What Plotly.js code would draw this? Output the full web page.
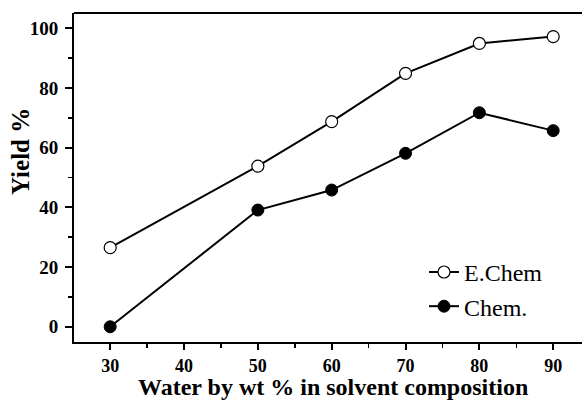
<!DOCTYPE html>
<html>
<head>
<meta charset="utf-8">
<script src="https://cdn.plot.ly/plotly-3.0.1.min.js"></script>
<style>html,body{margin:0;padding:0;background:#fff;}#chart{width:582px;height:400px;}</style>
</head>
<body>
<div id="chart"></div>
<script>
const waterPct = [30, 50, 60, 70, 80, 90];
const eChemYield = [26.5, 53.8, 68.7, 84.9, 94.9, 97.2];
const chemYield = [0, 39.1, 45.8, 58.1, 71.7, 65.7];
const seriesNames = ["E.Chem", "Chem."];
const xTicks = [30, 40, 50, 60, 70, 80, 90];
const yTicks = [0, 20, 40, 60, 80, 100];
const xTitle = "Water by wt % in solvent composition";
const yTitle = "Yield %";

const serif = "'Liberation Serif', 'Times New Roman', serif";

const traces = [
  {
    x: waterPct, y: eChemYield, name: seriesNames[0], mode: "lines+markers",
    line: {color: "#000", width: 2},
    marker: {symbol: "circle", size: 12, color: "#fff", line: {color: "#000", width: 1.2}}
  },
  {
    x: waterPct, y: chemYield, name: seriesNames[1], mode: "lines+markers",
    line: {color: "#000", width: 2},
    marker: {symbol: "circle", size: 12, color: "#000", line: {color: "#000", width: 1}}
  }
];

const layout = {
  width: 582, height: 400,
  margin: {l: 74, r: 0, t: 13, b: 58},
  paper_bgcolor: "#fff", plot_bgcolor: "#fff",
  showlegend: true,
  legend: {
    x: 0.689, y: 0.28, xanchor: "left", yanchor: "top",
    font: {family: serif, size: 24, color: "#000"},
    bgcolor: "rgba(0,0,0,0)", tracegroupgap: 0
  },
  xaxis: {
    range: [25.1, 93.9],
    tickvals: xTicks, ticktext: xTicks.map(String),
    ticks: "outside", ticklen: 6, tickwidth: 2, tickcolor: "#000",
    minor: {dtick: 5, ticks: "outside", ticklen: 4, tickwidth: 1.5, tickcolor: "#000"},
    showline: true, linecolor: "#000", linewidth: 2, mirror: false,
    showgrid: false, zeroline: false,
    tickfont: {family: serif, size: 18, color: "#000", weight: "bold"}
  },
  yaxis: {
    range: [-5.1, 105.1],
    tickvals: yTicks, ticktext: yTicks.map(String),
    ticks: "outside", ticklen: 7, tickwidth: 2, tickcolor: "#000",
    ticklabelstandoff: 3,
    minor: {dtick: 10, ticks: "outside", ticklen: 4, tickwidth: 1.5, tickcolor: "#000"},
    showline: true, linecolor: "#000", linewidth: 2, mirror: false,
    showgrid: false, zeroline: false,
    tickfont: {family: serif, size: 19, color: "#000", weight: "bold"}
  },
  annotations: [
    {text: "<b>" + xTitle + "</b>", xref: "paper", yref: "paper", x: 0.51, y: 0,
     xanchor: "center", yanchor: "bottom", yshift: -59, borderpad: 0, showarrow: false,
     font: {family: serif, size: 24, color: "#000"}},
    {text: "<b>" + yTitle + "</b>", xref: "paper", yref: "paper", x: 0, y: 0.5775,
     xanchor: "center", yanchor: "middle", xshift: -54, textangle: -90, showarrow: false,
     font: {family: serif, size: 25, color: "#000"}}
  ],
  shapes: [
    {type: "line", xref: "paper", yref: "paper", x0: 0, x1: 1, y0: 1, y1: 1, line: {color: "#000", width: 2}}
  ]
};

Plotly.newPlot("chart", traces, layout, {staticPlot: true, displayModeBar: false});
</script>
</body>
</html>
